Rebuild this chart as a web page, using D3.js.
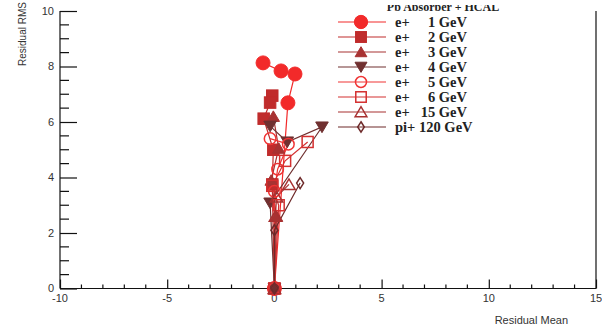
<!DOCTYPE html>
<html>
<head>
<meta charset="utf-8">
<script src="https://cdn.jsdelivr.net/npm/d3@7"></script>
<style>
  html, body { margin: 0; padding: 0; background: #fff; }
  svg { display: block; }
</style>
</head>
<body>
<svg id="chart" width="602" height="330"></svg>
<script>
// Residual RMS versus residual mean, one graph per beam energy
const seriesNames = ["e+    1 GeV", "e+    2 GeV", "e+    3 GeV", "e+    4 GeV",
                     "e+    5 GeV", "e+    6 GeV", "e+  15 GeV", "pi+ 120 GeV"];
const seriesColors = ["#f22a2a", "#c02c2c", "#a83232", "#703030",
                      "#f03434", "#d43030", "#a83030", "#6e2a2a"];
const seriesMarkers = ["circle", "square", "triangle", "triangleDown",
                       "circleOpen", "squareOpen", "triangleOpen", "diamondOpen"];

const meanE1 = [-0.53, 0.31, 0.96, 0.63, 0];
const rmsE1  = [ 8.13, 7.84, 7.73, 6.69, 0];
const meanE2 = [-0.1, -0.2, -0.5, -0.05, -0.1, 0];
const rmsE2  = [ 6.95, 6.7, 6.12, 5.0, 3.75, 0];
const meanE3 = [-0.05, 0.2, -0.15, 0.1, 0];
const rmsE3  = [ 6.2, 5.05, 3.9, 2.6, 0];
const meanE4 = [-0.2, 0.6, 2.22, -0.2, 0];
const rmsE4  = [ 5.85, 5.28, 5.82, 3.08, 0];
const meanE5 = [-0.2, 0.65, 0.15, 0.0, 0];
const rmsE5  = [ 5.4, 5.2, 4.3, 3.5, 0];
const meanE6 = [1.55, 0.5, -0.1, 0.2, 0];
const rmsE6  = [5.28, 4.6, 3.7, 3.0, 0];
const meanE15 = [0.68, 0.1, 0.05, 0];
const rmsE15  = [3.75, 3.3, 2.6, 0];
const meanPi120 = [1.2, 0.0, 0];
const rmsPi120  = [3.8, 2.1, 0];

const xTicks = [-10, -5, 0, 5, 10, 15];
const yTicks = [0, 2, 4, 6, 8, 10];

const meanSets = [meanE1, meanE2, meanE3, meanE4, meanE5, meanE6, meanE15, meanPi120];
const rmsSets  = [rmsE1, rmsE2, rmsE3, rmsE4, rmsE5, rmsE6, rmsE15, rmsPi120];
const series = seriesNames.map((name, i) => ({
  name, color: seriesColors[i], marker: seriesMarkers[i],
  points: meanSets[i].map((m, j) => ({ x: m, y: rmsSets[i][j] }))
}));

const svg = d3.select("#chart");
const frameLeft = 60, frameRight = 596, frameTop = 11, frameBottom = 288.5;
const x = d3.scaleLinear().domain([-10, 15]).range([frameLeft, frameRight]);
const y = d3.scaleLinear().domain([0, 10]).range([frameBottom, frameTop]);

const axisColor = "#111";
const labelFont = "Liberation Sans, Arial, sans-serif";

const defs = svg.append("defs");
defs.append("clipPath").attr("id", "headerClip")
  .append("rect").attr("x", 300).attr("y", 5).attr("width", 302).attr("height", 20);

// Left axis with inward ticks
const yAxis = d3.axisRight(y).tickValues(yTicks).tickSize(17).tickFormat("");
const gy = svg.append("g").attr("transform", `translate(${frameLeft},0)`).call(yAxis);
gy.select(".domain").attr("stroke", axisColor).attr("stroke-width", 1.2).attr("d", `M0,${frameTop}V${frameBottom}`);
gy.selectAll(".tick line").attr("stroke", axisColor).attr("stroke-width", 1.2);
const yMinor = d3.range(0, 10.01, 0.5).filter(v => !yTicks.includes(v));
gy.selectAll(".minor").data(yMinor).enter().append("line")
  .attr("x1", 0).attr("x2", 9).attr("y1", d => y(d)).attr("y2", d => y(d))
  .attr("stroke", axisColor).attr("stroke-width", 1.2);
gy.selectAll(".lab").data(yTicks).enter().append("text")
  .attr("x", -6).attr("y", d => y(d)).attr("dy", "0.35em")
  .attr("text-anchor", "end").attr("font-family", labelFont).attr("font-size", 11)
  .attr("fill", "#333").text(d => d);

// Bottom axis with inward ticks
const xAxis = d3.axisTop(x).tickValues(xTicks).tickSize(9).tickFormat("");
const gx = svg.append("g").attr("transform", `translate(0,${frameBottom})`).call(xAxis);
gx.select(".domain").attr("stroke", axisColor).attr("stroke-width", 1.2).attr("d", `M${frameLeft},0H${frameRight}`);
gx.selectAll(".tick line").attr("stroke", axisColor).attr("stroke-width", 1.2);
const xMinor = d3.range(-10, 15.01, 1).filter(v => !xTicks.includes(v));
gx.selectAll(".minor").data(xMinor).enter().append("line")
  .attr("x1", d => x(d)).attr("x2", d => x(d)).attr("y1", 0).attr("y2", -4)
  .attr("stroke", axisColor).attr("stroke-width", 1.2);
gx.selectAll(".lab").data(xTicks).enter().append("text")
  .attr("x", d => x(d)).attr("y", 13).attr("text-anchor", "middle")
  .attr("font-family", labelFont).attr("font-size", 11).attr("fill", "#333").text(d => d);

// Right frame edge
svg.append("line").attr("x1", frameRight).attr("x2", frameRight).attr("y1", frameTop).attr("y2", frameBottom)
  .attr("stroke", axisColor).attr("stroke-width", 1.2);

// Axis titles
svg.append("text").attr("x", 568).attr("y", 324).attr("text-anchor", "end")
  .attr("font-family", labelFont).attr("font-size", 11).attr("fill", "#333").text("Residual Mean");
svg.append("text")
  .attr("transform", "translate(26,66) rotate(-90)").attr("text-anchor", "start")
  .attr("font-family", labelFont).attr("font-size", 10).attr("fill", "#333").text("Residual RMS");

// Marker drawing
function drawMarker(g, type, color, cx, cy, scale = 1) {
  const open = type.endsWith("Open");
  const fill = open ? "#fff" : color;
  const fillOpacity = open ? 0 : 1;
  const sw = open ? 1.5 : 1;
  let el;
  if (type.startsWith("circle")) {
    const r = (open ? 5.8 : 7) * scale;
    el = g.append("circle").attr("cx", cx).attr("cy", cy).attr("r", r);
  } else if (type.startsWith("square")) {
    const s = (open ? 11 : 11.5) * scale;
    el = g.append("rect").attr("x", cx - s / 2).attr("y", cy - s / 2).attr("width", s).attr("height", s);
  } else if (type === "triangleDown") {
    const s = 6.3 * scale;
    el = g.append("path").attr("d", `M${cx - s},${cy - s * 0.8}L${cx + s},${cy - s * 0.8}L${cx},${cy + s * 0.9}Z`);
  } else if (type.startsWith("triangle")) {
    const s = 6.2 * scale;
    el = g.append("path").attr("d", `M${cx - s},${cy + s * 0.8}L${cx + s},${cy + s * 0.8}L${cx},${cy - s * 0.9}Z`);
  } else {
    const w = 3.5 * scale, h = 5.5 * scale;
    el = g.append("path").attr("d", `M${cx},${cy - h}L${cx + w},${cy}L${cx},${cy + h}L${cx - w},${cy}Z`);
  }
  el.attr("fill", fill).attr("fill-opacity", fillOpacity).attr("stroke", color).attr("stroke-width", sw);
}

// Graph lines and markers
const line = d3.line().x(d => x(d.x)).y(d => y(d.y));
const plot = svg.append("g");
series.forEach(s => {
  plot.append("path").datum(s.points).attr("d", line)
    .attr("fill", "none").attr("stroke", s.color).attr("stroke-width", 1.2);
});
series.forEach(s => {
  const g = plot.append("g");
  s.points.forEach(p => drawMarker(g, s.marker, s.color, x(p.x), y(p.y)));
});

// Legend
const legend = svg.append("g");
const serif = "Liberation Serif, Times New Roman, serif";
legend.append("g").attr("clip-path", "url(#headerClip)")
  .append("text").attr("x", 443).attr("y", 11).attr("text-anchor", "middle")
  .attr("font-family", serif).attr("font-weight", "bold").attr("font-size", 12)
  .attr("fill", "#222").text("Pb Absorber + HCAL");
const rowY = [22, 37, 52, 67, 82, 97, 112, 127];
series.forEach((s, i) => {
  const ry = rowY[i];
  legend.append("line").attr("x1", 338).attr("x2", 386).attr("y1", ry).attr("y2", ry)
    .attr("stroke", s.color).attr("stroke-width", 1.2);
  drawMarker(legend, s.marker, s.color, 361, ry, 0.95);
  const parts = s.name.split(/\s{2,}/);
  const t = legend.append("text").attr("y", ry).attr("dy", "0.35em")
    .attr("font-family", serif).attr("font-weight", "bold").attr("font-size", 14.5).attr("fill", "#222");
  if (parts.length === 2) {
    legend.append("text").attr("x", 395).attr("y", ry).attr("dy", "0.35em")
      .attr("font-family", serif).attr("font-weight", "bold").attr("font-size", 14.5)
      .attr("fill", "#222").text(parts[0]);
    t.attr("x", 467).attr("text-anchor", "end").text(parts[1]);
  } else {
    t.attr("x", 395).text(s.name);
  }
});
</script>
</body>
</html>
